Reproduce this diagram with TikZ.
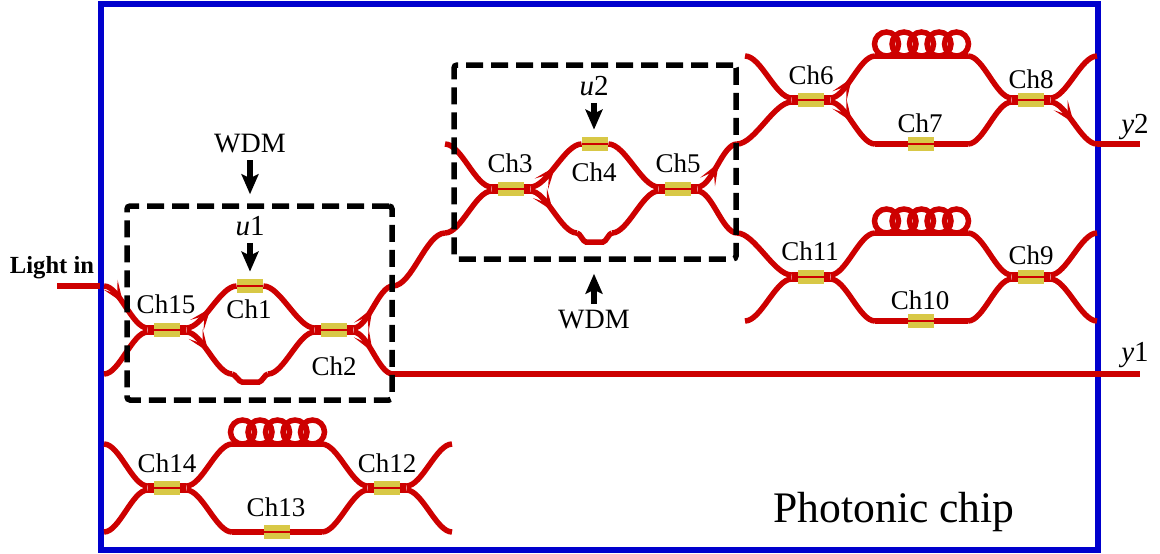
\documentclass[tikz,border=0pt]{standalone}
\usepackage{fontspec}
\setmainfont{Liberation Serif}
\usepackage{xcolor}
\usetikzlibrary{arrows.meta,calc,decorations.markings}
\definecolor{chipblue}{RGB}{0,0,205}
\definecolor{guidered}{RGB}{205,0,0}
\definecolor{padyellow}{RGB}{216,200,70}
\newcommand{\coil}[1]{\foreach \k in {0,...,4} \draw[wg] ($(#1)+(\k*17.5,0)$) circle[radius=6pt];}

\begin{document}
\begin{tikzpicture}[
    x=0.5pt, y=-0.5pt,
    font=\fontsize{13.5pt}{15pt}\selectfont,
    wg/.style={draw=guidered, line width=2.75pt},
    sbend/.style={out=0, in=180, looseness=0.65},
    dent/.style={out=0, in=180, looseness=0.6},
    flow/.style={postaction={decorate}, decoration={markings,
        mark=at position #1 with {\arrow{Stealth[length=11pt, width=8.5pt, inset=6pt]}}}},
    core/.style={draw=guidered, line width=1.1pt},
    pad/.style={fill=padyellow, minimum width=13pt, minimum height=7pt, inner sep=0pt},
    wdmbox/.style={draw=black, line width=2.75pt, dash pattern=on 8.5pt off 4pt, rounded corners=1.5pt, minimum width=132.5pt, minimum height=97pt},
    ctrl/.style={-{Stealth[length=10pt, width=8.5pt, inset=2pt]}, line width=3pt},
    big/.style={font=\fontsize{14.5pt}{16pt}\selectfont},
    wdm/.style={font=\fontsize{14pt}{16pt}\selectfont}
]
\useasboundingbox (0,0) rectangle (1160,553);
\node[draw=chipblue, line width=3pt, minimum width=498.5pt, minimum height=273pt, inner sep=0pt] (chip) at (599.5,277) {};

% couplers and phase pads
\foreach \name/\pos in {ch15/{167,330}, ch1/{250,286}, ch2/{334,330},
    ch3/{511,189}, ch4/{595,144}, ch5/{678,189},
    ch6/{811,100}, ch7/{921,144}, ch8/{1031,100},
    ch11/{811,277}, ch10/{921,321}, ch9/{1031,277},
    ch14/{167,488}, ch13/{277,532}, ch12/{387,488}}
    \node[pad] (\name) at (\pos) {};

% stubs either side of the couplers
\foreach \name in {ch15,ch2,ch3,ch5,ch6,ch8,ch9,ch11,ch12,ch14} {
    \coordinate (\name w) at ([xshift=-3pt]\name.west);
    \coordinate (\name e) at ([xshift=3pt]\name.east);
    \draw[wg, line width=5pt] (\name w) -- (\name.west);
    \draw[wg, line width=5pt] (\name.east) -- (\name e);
}

\coordinate (lightin) at (57,286);
\coordinate (edge) at (100,286);
\coordinate (in1) at (104,286);
\coordinate (in2) at (104,374);
\coordinate (arm1b) at (232,374);
\coordinate (arm1d) at (242,382);
\coordinate (arm1e) at (259,382);
\coordinate (arm1f) at (268,374);
\coordinate (out1t) at (393,286);
\coordinate (out1b) at (393,374);
\coordinate (y1end) at (1140,374);
\coordinate (link) at (445,233);
\coordinate (in3) at (445,144);
\coordinate (arm2b) at (577,233);
\coordinate (arm2d) at (586,242);
\coordinate (arm2e) at (603,242);
\coordinate (arm2f) at (612,233);
\coordinate (out2t) at (737,144);
\coordinate (out2b) at (737,233);
\coordinate (in6) at (745,56);
\coordinate (top6) at (875,56);
\coordinate (top8) at (968,56);
\coordinate (low6) at (875,144);
\coordinate (low8) at (968,144);
\coordinate (out8t) at (1097,56);
\coordinate (out8b) at (1097,144);
\coordinate (y2end) at (1140,144);
\coordinate (in11) at (745,321);
\coordinate (top11) at (875,233);
\coordinate (top9) at (968,233);
\coordinate (low11) at (875,321);
\coordinate (low9) at (968,321);
\coordinate (out9t) at (1097,233);
\coordinate (out9b) at (1097,321);
\coordinate (in14t) at (104,444);
\coordinate (in14b) at (104,532);
\coordinate (top14) at (232,444);
\coordinate (top12) at (322,444);
\coordinate (low14) at (232,532);
\coordinate (low12) at (322,532);
\coordinate (out12t) at (452,444);
\coordinate (out12b) at (452,532);
\coordinate (coil6) at (886.5,44);
\coordinate (coil11) at (886.5,221);
\coordinate (coil14) at (242.5,432);

% first switch
\draw[wg] (lightin) -- (edge);
\draw[wg, flow=0.42] (in1) to[sbend] ([yshift=1pt]ch15w);
\draw[wg] (in2) to[sbend] ([yshift=-1pt]ch15w);
\draw[wg, flow=0.48] ([yshift=1pt]ch15e) to[sbend] (ch1.west);
\draw[wg, flow=0.48] ([yshift=-1pt]ch15e) to[sbend] (arm1b);
\draw[wg] (arm1b) to[dent] (arm1d) -- (arm1e) to[dent] (arm1f);
\draw[wg] (ch1.east) to[sbend] ([yshift=1pt]ch2w);
\draw[wg] (arm1f) to[sbend] ([yshift=-1pt]ch2w);
\draw[wg, flow=0.48] ([yshift=1pt]ch2e) to[sbend] (out1t);
\draw[wg, flow=0.48] ([yshift=-1pt]ch2e) to[sbend] (out1b);
\draw[wg] (out1b) -- (y1end);
\draw[wg] (out1t) to[sbend] (link);

% second switch
\draw[wg] (in3) to[sbend] ([yshift=1pt]ch3w);
\draw[wg] (link) to[sbend] ([yshift=-1pt]ch3w);
\draw[wg, flow=0.48] ([yshift=1pt]ch3e) to[sbend] (ch4.west);
\draw[wg, flow=0.48] ([yshift=-1pt]ch3e) to[sbend] (arm2b);
\draw[wg] (arm2b) to[dent] (arm2d) -- (arm2e) to[dent] (arm2f);
\draw[wg] (ch4.east) to[sbend] ([yshift=1pt]ch5w);
\draw[wg] (arm2f) to[sbend] ([yshift=-1pt]ch5w);
\draw[wg, flow=0.55] ([yshift=1pt]ch5e) to[sbend] (out2t);
\draw[wg] ([yshift=-1pt]ch5e) to[sbend] (out2b);

% upper delay line
\draw[wg] (in6) to[sbend] ([yshift=1pt]ch6w);
\draw[wg] (out2t) to[sbend] ([yshift=-1pt]ch6w);
\draw[wg, flow=0.48] ([yshift=1pt]ch6e) to[sbend] (top6);
\draw[wg, flow=0.48] ([yshift=-1pt]ch6e) to[sbend] (low6);
\draw[wg] (top6) -- (top8);
\draw[wg] (low6) -- (ch7.west);
\draw[wg] (ch7.east) -- (low8);
\coil{coil6}
\draw[wg] (top8) to[sbend] ([yshift=1pt]ch8w);
\draw[wg] (low8) to[sbend] ([yshift=-1pt]ch8w);
\draw[wg] ([yshift=1pt]ch8e) to[sbend] (out8t);
\draw[wg, flow=0.5] ([yshift=-1pt]ch8e) to[sbend] (out8b);
\draw[wg] (out8b) -- (y2end);

% middle delay line
\draw[wg] (out2b) to[sbend] ([yshift=1pt]ch11w);
\draw[wg] (in11) to[sbend] ([yshift=-1pt]ch11w);
\draw[wg] ([yshift=1pt]ch11e) to[sbend] (top11);
\draw[wg] ([yshift=-1pt]ch11e) to[sbend] (low11);
\draw[wg] (top11) -- (top9);
\draw[wg] (low11) -- (ch10.west);
\draw[wg] (ch10.east) -- (low9);
\coil{coil11}
\draw[wg] (top9) to[sbend] ([yshift=1pt]ch9w);
\draw[wg] (low9) to[sbend] ([yshift=-1pt]ch9w);
\draw[wg] ([yshift=1pt]ch9e) to[sbend] (out9t);
\draw[wg] ([yshift=-1pt]ch9e) to[sbend] (out9b);

% lower delay line
\draw[wg] (in14t) to[sbend] ([yshift=1pt]ch14w);
\draw[wg] (in14b) to[sbend] ([yshift=-1pt]ch14w);
\draw[wg] ([yshift=1pt]ch14e) to[sbend] (top14);
\draw[wg] ([yshift=-1pt]ch14e) to[sbend] (low14);
\draw[wg] (top14) -- (top12);
\draw[wg] (low14) -- (ch13.west);
\draw[wg] (ch13.east) -- (low12);
\coil{coil14}
\draw[wg] (top12) to[sbend] ([yshift=1pt]ch12w);
\draw[wg] (low12) to[sbend] ([yshift=-1pt]ch12w);
\draw[wg] ([yshift=1pt]ch12e) to[sbend] (out12t);
\draw[wg] ([yshift=-1pt]ch12e) to[sbend] (out12b);

\foreach \name in {ch15,ch1,ch2,ch3,ch4,ch5,ch6,ch7,ch8,ch9,ch10,ch11,ch12,ch13,ch14}
    \draw[core] (\name.west) -- (\name.east);

\node[wdmbox] (box1) at (259.5,303) {};
\node[wdmbox, minimum width=141pt] (box2) at (595,162) {};

% labels
\node[font=\fontsize{12.3pt}{14pt}\selectfont\bfseries] (lightlabel) at (52,268) {Light in};
\node (l15) at (166,304) {Ch15};
\node (l1) at (249,309) {Ch1};
\node (l2) at (334,366) {Ch2};
\node (l3) at (510,163) {Ch3};
\node (l4) at (594,172) {Ch4};
\node (l5) at (678,163) {Ch5};
\node (l6) at (811,75) {Ch6};
\node (l7) at (920,123) {Ch7};
\node (l8) at (1031,79) {Ch8};
\node (l9) at (1031,255) {Ch9};
\node (l10) at (920,300) {Ch10};
\node (l11) at (810,251) {Ch11};
\node (l12) at (387,463) {Ch12};
\node (l13) at (276,507) {Ch13};
\node (l14) at (167,463) {Ch14};
\node[big] (y1) at (1135,355) {\textit{y}1};
\node[big] (y2) at (1135,127) {\textit{y}2};
\node (chiplabel) at (894,512) {\fontsize{21.8pt}{24pt}\selectfont Photonic chip};
\node[wdm] (wdm1) at (250,144) {WDM};
\node[wdm] (wdm2) at (594,320) {WDM};
\node[big] (u1) at (250,226) {\textit{u}1};
\node[big] (u2) at (594,86) {\textit{u}2};

\draw[ctrl, shorten >=4.5pt] (wdm1) -- (wdm1|-box1.north);
\draw[ctrl, shorten >=6pt] (wdm2) -- (wdm2|-box2.south);
\draw[ctrl, shorten >=3.5pt] (u1) -- (u1|-ch1.north);
\draw[ctrl, shorten >=3.5pt] (u2) -- (u2|-ch4.north);
\end{tikzpicture}
\end{document}
